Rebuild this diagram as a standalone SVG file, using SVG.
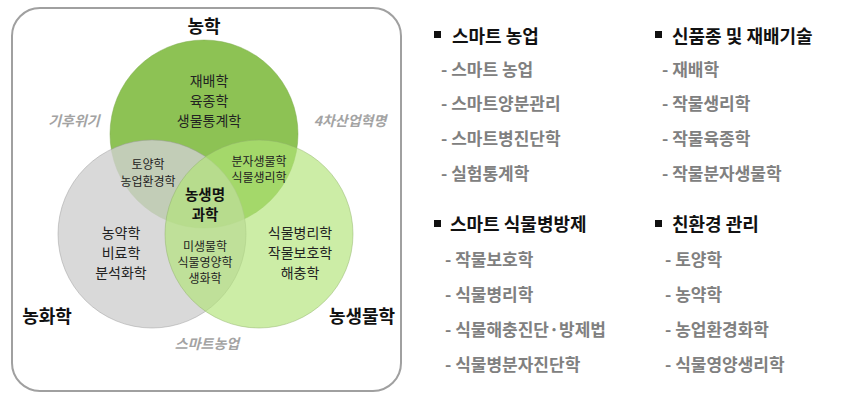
<svg xmlns="http://www.w3.org/2000/svg" width="850" height="400" viewBox="0 0 850 400">
<style>
text{font-family:"Noto Sans CJK KR","Noto Sans",sans-serif;dominant-baseline:central;text-anchor:middle}
.big{font-size:18px;font-weight:bold;fill:#111}
.mid{font-size:14px;fill:#222}
.sm{font-size:12px;fill:#222}
.core{font-size:14.5px;font-weight:bold;fill:#111}
.tag{font-size:14px;font-weight:bold;font-style:italic;fill:#a3a3a3}
.hd{font-size:18px;font-weight:bold;fill:#111;text-anchor:start}
.it{font-size:17px;font-weight:bold;fill:#808080;text-anchor:start}
.bul{fill:#111}
</style>
<rect x="12" y="8" width="389" height="383" rx="28" ry="28" fill="#fff" stroke="#a0a0a0" stroke-width="2"/>
<g id="circle-nonghak">
<circle cx="204" cy="134" r="94" fill="#8dc254" stroke="#7aa84a" stroke-width="0.8" stroke-opacity="0.6"/>
</g>
<g id="circle-nonghwahak">
<circle cx="152" cy="234" r="94" fill="#d0d0d0" fill-opacity="0.8" stroke="#9a9a9a" stroke-width="0.8" stroke-opacity="0.6"/>
</g>
<g id="circle-nongsaengmulhak">
<circle cx="259" cy="234" r="94" fill="#b0e477" fill-opacity="0.65" stroke="#8fb06a" stroke-width="0.8" stroke-opacity="0.6"/>
</g>
<g id="labels-venn">
<text class="big" x="204" y="25">농학</text>
<text class="mid" x="209" y="80">재배학</text>
<text class="mid" x="209" y="100">육종학</text>
<text class="mid" x="209" y="120">생물통계학</text>
<text class="tag" x="74" y="120">기후위기</text>
<text class="tag" x="350" y="120">4차산업혁명</text>
<text class="sm" x="148" y="163">토양학</text>
<text class="sm" x="148" y="180">농업환경학</text>
<text class="sm" x="259" y="160">분자생물학</text>
<text class="sm" x="259" y="176">식물생리학</text>
<text class="core" x="205" y="193">농생명</text>
<text class="core" x="205" y="213">과학</text>
<text class="mid" x="121" y="232">농약학</text>
<text class="mid" x="121" y="252">비료학</text>
<text class="mid" x="121" y="272">분석화학</text>
<text class="sm" x="205" y="245">미생물학</text>
<text class="sm" x="205" y="261">식물영양학</text>
<text class="sm" x="205" y="277">생화학</text>
<text class="mid" x="300" y="232">식물병리학</text>
<text class="mid" x="300" y="252">작물보호학</text>
<text class="mid" x="300" y="272">해충학</text>
<text class="big" x="47" y="315">농화학</text>
<text class="big" x="362" y="315">농생물학</text>
<text class="tag" x="207" y="343">스마트농업</text>
</g>
<g id="list-smart-farming">
<rect class="bul" x="434" y="31" width="7" height="7"/>
<text class="hd" x="452" y="35">스마트 농업</text>
<text class="it" x="441" y="68">- 스마트 농업</text>
<text class="it" x="441" y="102">- 스마트양분관리</text>
<text class="it" x="441" y="137">- 스마트병진단학</text>
<text class="it" x="441" y="172">- 실험통계학</text>
</g>
<g id="list-new-variety">
<rect class="bul" x="655" y="31" width="7" height="7"/>
<text class="hd" x="672" y="35">신품종 및 재배기술</text>
<text class="it" x="662" y="68">- 재배학</text>
<text class="it" x="662" y="102">- 작물생리학</text>
<text class="it" x="662" y="137">- 작물육종학</text>
<text class="it" x="662" y="172">- 작물분자생물학</text>
</g>
<g id="list-smart-protection">
<rect class="bul" x="434" y="220" width="7" height="7"/>
<text class="hd" x="450" y="223">스마트 식물병방제</text>
<text class="it" x="445" y="258">- 작물보호학</text>
<text class="it" x="445" y="293">- 식물병리학</text>
<text class="it" x="445" y="328">- 식물해충진단·방제법</text>
<text class="it" x="445" y="363">- 식물병분자진단학</text>
</g>
<g id="list-eco">
<rect class="bul" x="655" y="220" width="7" height="7"/>
<text class="hd" x="672" y="223">친환경 관리</text>
<text class="it" x="665" y="258">- 토양학</text>
<text class="it" x="665" y="293">- 농약학</text>
<text class="it" x="665" y="328">- 농업환경화학</text>
<text class="it" x="665" y="363">- 식물영양생리학</text>
</g>
</svg>
